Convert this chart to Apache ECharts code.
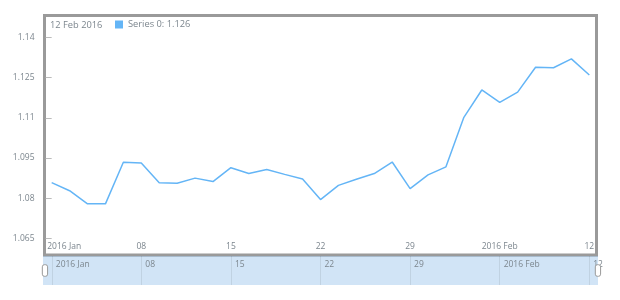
<!DOCTYPE html>
<html><head><meta charset="utf-8">
<script src="https://cdn.jsdelivr.net/npm/echarts@6/dist/echarts.min.js"></script>
<style>html,body{margin:0;padding:0;background:#fff}#c{width:620px;height:300px}</style>
</head><body><div id="c"></div>
<script>
const dates = ['2016-01-01','2016-01-04','2016-01-05','2016-01-06','2016-01-07','2016-01-08',
  '2016-01-11','2016-01-12','2016-01-13','2016-01-14','2016-01-15',
  '2016-01-18','2016-01-19','2016-01-20','2016-01-21','2016-01-22',
  '2016-01-25','2016-01-26','2016-01-27','2016-01-28','2016-01-29',
  '2016-02-01','2016-02-02','2016-02-03','2016-02-04','2016-02-05',
  '2016-02-08','2016-02-09','2016-02-10','2016-02-11','2016-02-12'];
const values = [1.0858,1.0828,1.0779,1.0779,1.0934,1.0931,
  1.0858,1.0856,1.0875,1.0862,1.0914,
  1.0892,1.0907,1.0889,1.0872,1.0795,
  1.0848,1.0871,1.0892,1.0935,1.0836,
  1.0887,1.0917,1.1102,1.1204,1.1158,
  1.1196,1.1289,1.1287,1.1320,1.1260];
const seriesName = 'Series 0';
const tickIndices = [0,5,10,15,20,25,30];
const tickLabels = ['2016 Jan','08','15','22','29','2016 Feb','12'];
const yTickValues = [1.065,1.08,1.095,1.11,1.125,1.14];
const monthNames = ['Jan','Feb','Mar','Apr','May','Jun','Jul','Aug','Sep','Oct','Nov','Dec'];

const font = 'Open Sans';
const txt = '#7c868e';
const lineColor = '#64b5f6';

const last = dates[dates.length-1].split('-');
const titleText = parseInt(last[2],10) + ' ' + monthNames[parseInt(last[1],10)-1] + ' ' + last[0];

function labelFor(v){
  const r = Math.round(v);
  if (Math.abs(v - r) > 1e-6) return '';
  const k = tickIndices.indexOf(r);
  return k < 0 ? '' : tickLabels[k];
}

const chart = echarts.init(document.getElementById('c'));
chart.setOption({
  backgroundColor:'#fff',
  animation:false,
  title:{text:titleText,left:50,top:21,padding:0,
    textStyle:{fontFamily:font,fontSize:9.3,fontWeight:'normal',color:txt}},
  legend:{left:115,top:20,padding:0,icon:'rect',itemWidth:8,itemHeight:8,itemGap:5,
    textStyle:{fontFamily:font,fontSize:9.3,color:txt},
    formatter:n => n + ': ' + values[values.length-1].toFixed(3),
    data:[{name:seriesName,itemStyle:{color:lineColor}}]},
  grid:[
    {left:44.5,right:23.5,top:15.5,bottom:45,show:true,borderColor:'#9a9a9a',borderWidth:3,backgroundColor:'#fff'},
    {left:43,right:22,top:256,height:29,show:true,borderWidth:0,backgroundColor:'rgba(25,118,210,0.2)'}
  ],
  xAxis:[
    {type:'value',gridIndex:0,min:-0.4,max:30.4,
      axisLine:{show:false},axisTick:{show:false,customValues:tickIndices},splitLine:{show:false},
      axisLabel:{inside:true,margin:4,customValues:tickIndices,showMinLabel:true,showMaxLabel:true,
        fontFamily:font,fontSize:8.5,color:txt,
        formatter:(v)=>{const s=labelFor(v); return Math.round(v)===tickIndices[0] ? '{f|'+s+'}' : s;},
        rich:{f:{fontFamily:font,fontSize:8.5,color:txt,padding:[0,0,0,25]}}}},
    {type:'value',gridIndex:1,position:'top',min:-0.49,max:30.49,
      axisLine:{show:false},axisTick:{show:false,customValues:tickIndices},
      splitLine:{show:true,lineStyle:{color:'rgba(0,0,0,0.08)',width:1}},
      axisLabel:{inside:true,margin:4,align:'left',padding:[0,0,0,4],customValues:tickIndices,
        fontFamily:font,fontSize:8.5,color:txt,formatter:labelFor}}
  ],
  yAxis:[
    {type:'value',gridIndex:0,min:1.0588,max:1.1482,
      axisLine:{show:false},splitLine:{show:false},
      axisTick:{show:true,length:6,lineStyle:{color:'#bbbbbb'},customValues:yTickValues},
      axisLabel:{margin:10,customValues:yTickValues,fontFamily:font,fontSize:8.5,color:txt}},
    {type:'value',gridIndex:1,show:false,min:0,max:1}
  ],
  dataZoom:[{type:'slider',xAxisIndex:0,filterMode:'none',start:0,end:100,
    left:43,right:22,top:256,height:29,showDetail:false,showDataShadow:false,brushSelect:false,
    moveHandleSize:0,backgroundColor:'transparent',fillerColor:'transparent',borderColor:'transparent',
    handleIcon:'path://M2,0 h1 a2,2 0 0 1 2,2 v7 a2,2 0 0 1 -2,2 h-1 a2,2 0 0 1 -2,-2 v-7 a2,2 0 0 1 2,-2 z',
    handleSize:'40%',handleStyle:{color:'#ffffff',borderColor:'#999999',borderWidth:1},
    emphasis:{handleStyle:{color:'#ffffff',borderColor:'#999999'}},
    dataBackground:{lineStyle:{opacity:0},areaStyle:{opacity:0}},
    selectedDataBackground:{lineStyle:{opacity:0},areaStyle:{opacity:0}}}],
  series:[{type:'line',name:seriesName,xAxisIndex:0,yAxisIndex:0,
    data:values.map((v,i)=>[i,v]),showSymbol:false,
    lineStyle:{color:lineColor,width:1.5},itemStyle:{color:lineColor}}]
});
</script></body></html>
